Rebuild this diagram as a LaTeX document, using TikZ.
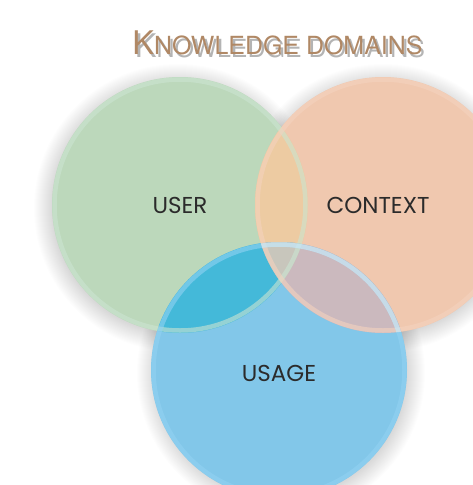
\documentclass[tikz,border=0pt]{standalone}
\usepackage{fontspec}
\setmainfont{Poppins}
\newfontfamily\titlefont{TeX Gyre Heros}
\definecolor{gfill}{HTML}{BCD8BB}
\definecolor{ofill}{HTML}{F0C8AF}
\definecolor{bfill}{HTML}{82C7E9}
\definecolor{gofill}{HTML}{EDCBA2}
\definecolor{gbfill}{HTML}{44B9D9}
\definecolor{obfill}{HTML}{CBB9BE}
\definecolor{gobfill}{HTML}{C8C6BC}
\definecolor{grim}{HTML}{CBE4D2}
\definecolor{orim}{HTML}{F4D2BE}
\definecolor{brim}{HTML}{92D2F2}
\definecolor{titlecol}{HTML}{B08865}
\definecolor{titleshadow}{HTML}{B4B4B4}
\definecolor{labelcol}{HTML}{2B2B2B}
\tikzset{
  label text/.style={font=\fontsize{23}{25}\selectfont, text=labelcol, inner sep=0pt},
  rim/.style={line width=4.5pt, opacity=0.6},
  softshadow/.style={fill=black, opacity=0.007}
}
\newcommand{\titletext}{\titlefont\fontsize{15}{15}\selectfont K\fontsize{11.5}{12}\selectfont NOWLEDGE DOMAINS}
\begin{document}
\begin{tikzpicture}[x=1pt,y=-1pt]
\useasboundingbox (0,0) rectangle (473,485);
\fill[white] (0,0) rectangle (473,485);
\clip (0,0) rectangle (473,485);
\coordinate (G) at (180,205);
\coordinate (O) at (383,205);
\coordinate (B) at (279,370);
\def\R{128}
% soft shadows
\foreach \c/\dx/\dy in {G/-2/3, O/0/3, B/2/3}{
  \foreach \i in {0,...,18}{
    \fill[softshadow] ([xshift=\dx pt, yshift=-\dy pt]\c) circle (\R-2+\i);
  }
}
% base fills
\fill[gfill] (G) circle (\R);
\fill[ofill] (O) circle (\R);
\fill[bfill] (B) circle (\R);
% overlaps
\begin{scope}\clip (G) circle (\R); \fill[gofill] (O) circle (\R);\end{scope}
\begin{scope}\clip (G) circle (\R); \fill[gbfill] (B) circle (\R);\end{scope}
\begin{scope}\clip (O) circle (\R); \fill[obfill] (B) circle (\R);\end{scope}
\begin{scope}\clip (G) circle (\R); \clip (O) circle (\R); \fill[gobfill] (B) circle (\R);\end{scope}
% rims
\draw[rim, grim] (G) circle (\R-2.5);
\draw[rim, orim] (O) circle (\R-2.5);
\draw[rim, brim] (B) circle (\R-2.5);
\begin{scope}\clip (O) circle (\R);
\draw[rim, draw=white, opacity=0.35] (B) circle (\R-2.5);
\end{scope}
% labels
\node[label text] (user) at (180,205) {USER};
\node[label text] (context) at (378,205) {CONTEXT};
\node[label text] (usage) at (279,373) {USAGE};
% title with shadow
\node[inner sep=0pt] (title) at (277.5,44.5)
  {\makebox[0pt][l]{\hspace{2.5pt}\raisebox{-3pt}{\color{titleshadow}\resizebox{290pt}{!}{\titletext}}}%
   \color{titlecol}\resizebox{290pt}{!}{\titletext}};
\end{tikzpicture}
\end{document}
